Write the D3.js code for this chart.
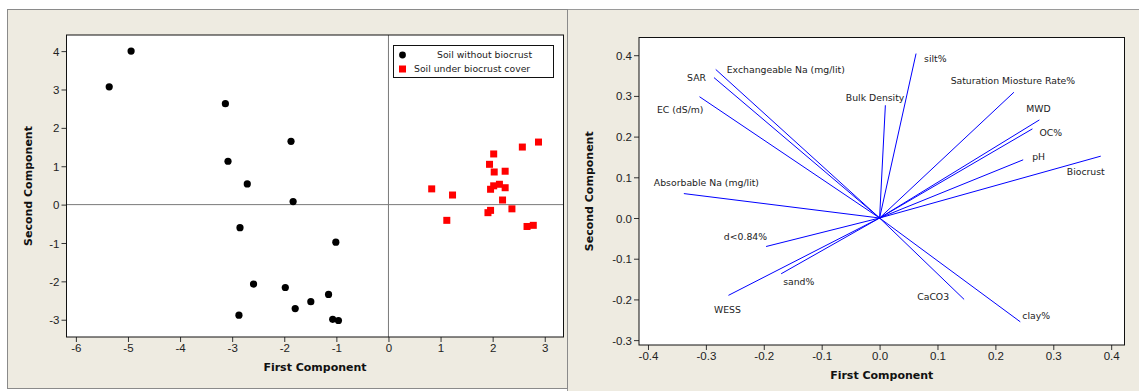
<!DOCTYPE html>
<html lang="en">
<head>
<meta charset="UTF-8">
<title>PCA score and loading plots</title>
<script src="https://d3js.org/d3.v7.min.js"></script>
<style>
    body { margin: 0; background: #fff; }
    svg { display: block; font-family: "DejaVu Sans", Verdana, sans-serif; }
    .tick text { font-size: 11.5px; fill: #222; }
    .tick line { stroke: #333; }
    .axis-title { font-size: 11px; font-weight: bold; fill: #111; }
    .lbl { font-size: 9.3px; fill: #222; }
</style>
</head>
<body>
<div id="chart"></div>
<script>
// score plot: soil without biocrust
const noCrustPC1 = [-4.94, -5.36, -3.13, -1.87, -3.08, -2.71, -1.83, -2.85, -1.01, -2.59, -1.98, -1.15, -1.49, -1.79, -2.87, -1.07, -0.96];
const noCrustPC2 = [4.00, 3.07, 2.63, 1.65, 1.13, 0.54, 0.08, -0.60, -0.98, -2.07, -2.16, -2.34, -2.53, -2.71, -2.88, -2.99, -3.02];
// score plot: soil under biocrust cover
const crustPC1 = [0.83, 1.23, 1.12, 2.02, 1.94, 2.03, 2.24, 2.57, 2.88, 1.96, 2.02, 2.13, 2.24, 2.19, 2.37, 1.96, 1.91, 2.66, 2.78];
const crustPC2 = [0.41, 0.25, -0.41, 1.32, 1.05, 0.85, 0.87, 1.50, 1.63, 0.40, 0.49, 0.53, 0.44, 0.12, -0.11, -0.15, -0.21, -0.57, -0.54];
const seriesNames = ["Soil without biocrust", "Soil under biocrust cover"];

// loading plot
const variables = ["silt%", "Bulk Density", "Exchangeable Na (mg/lit)", "SAR", "EC (dS/m)", "Absorbable Na (mg/lit)",
    "d<0.84%", "sand%", "WESS", "CaCO3", "clay%", "Saturation Miosture Rate%", "MWD", "OC%", "pH", "Biocrust"];
const loadPC1 = [0.063, 0.010, -0.283, -0.286, -0.311, -0.338, -0.196, -0.170, -0.261, 0.146, 0.243, 0.232, 0.276, 0.264, 0.248, 0.382];
const loadPC2 = [0.404, 0.277, 0.365, 0.345, 0.298, 0.060, -0.070, -0.137, -0.190, -0.200, -0.255, 0.309, 0.241, 0.219, 0.143, 0.152];

const scoreXTicks = [-6, -5, -4, -3, -2, -1, 0, 1, 2, 3];
const scoreYTicks = [-3, -2, -1, 0, 1, 2, 3, 4];
const loadXTicks = [-0.4, -0.3, -0.2, -0.1, 0.0, 0.1, 0.2, 0.3, 0.4];
const loadYTicks = [-0.3, -0.2, -0.1, 0.0, 0.1, 0.2, 0.3, 0.4];

// label placement relative to the arrow tip: [dx, dy, anchor]
const labelPlace = [[8, 5, "start"], [19, -8, "end"], [11, 0, "start"], [-8, 0, "end"], [4, 13, "end"], [-30, -11, "start"],
    [1, -10, "end"], [2, 8, "start"], [-1, 14, "middle"], [-15, -3, "end"], [2, -6, "start"], [-1, -11, "middle"],
    [-1, -11, "middle"], [7, 4, "start"], [9, -3, "start"], [4, 16, "end"]];

const W = 1139, H = 391;
const beige = "#eeebe1";

const svg = d3.select("#chart").append("svg")
    .attr("width", W)
    .attr("height", H);

svg.append("rect").attr("width", W).attr("height", H).attr("fill", "#fff");

// panel backgrounds
svg.append("rect")
    .attr("x", 567.5).attr("y", 9.5).attr("width", 600).attr("height", 400)
    .attr("fill", beige).attr("stroke", "#9a9a9a");
svg.append("rect")
    .attr("x", 7.5).attr("y", 9.5).attr("width", 560).attr("height", 379)
    .attr("fill", beige).attr("stroke", "#8a8a8a");

// plain hyphen for negatives, like the original
const hyphen = f => d => f(d).replace("\u2212", "-");

function drawAxes(g, x, y, xTicks, yTicks, fmt) {
    const [x0, x1] = x.range();
    const [y0, y1] = y.range();
    g.append("rect")
        .attr("x", x0).attr("y", y0).attr("width", x1 - x0).attr("height", y1 - y0)
        .attr("fill", "#fff");

    const ax = g.append("g")
        .attr("transform", "translate(0," + y1 + ")")
        .call(d3.axisBottom(x).tickValues(xTicks).tickFormat(hyphen(fmt)).tickSize(5).tickPadding(2));
    ax.select(".domain").remove();

    const ay = g.append("g")
        .attr("transform", "translate(" + x0 + ",0)")
        .call(d3.axisLeft(y).tickValues(yTicks).tickFormat(hyphen(fmt)).tickSize(5).tickPadding(2));
    ay.select(".domain").remove();
    ay.selectAll(".tick text").attr("dy", "0.35em");

    g.append("text").attr("class", "axis-title")
        .attr("x", (x0 + x1) / 2).attr("y", y1 + 34)
        .attr("text-anchor", "middle")
        .text("First Component");
}

function drawFrame(g, x, y) {
    const [x0, x1] = x.range();
    const [y0, y1] = y.range();
    g.append("rect")
        .attr("x", x0).attr("y", y0).attr("width", x1 - x0).attr("height", y1 - y0)
        .attr("fill", "none").attr("stroke", "#111");
}

// ---------- left: score plot ----------
const xs = d3.scaleLinear().domain([-6.18, 3.36]).range([66.5, 563.5]);
const ys = d3.scaleLinear().domain([4.42, -3.45]).range([35, 337]);
const left = svg.append("g");
drawAxes(left, xs, ys, scoreXTicks, scoreYTicks, d3.format("d"));

left.append("text").attr("class", "axis-title")
    .attr("transform", "translate(32," + (35 + 337) / 2 + ") rotate(-90)")
    .attr("text-anchor", "middle")
    .text("Second Component");

// reference lines at zero
left.append("line")
    .attr("x1", xs(0)).attr("x2", xs(0)).attr("y1", 35).attr("y2", 337)
    .attr("stroke", "#7a7a7a");
left.append("line")
    .attr("x1", 66.5).attr("x2", 563.5).attr("y1", ys(0)).attr("y2", ys(0))
    .attr("stroke", "#7a7a7a");

left.selectAll(".nocrust")
    .data(d3.zip(noCrustPC1, noCrustPC2))
  .enter().append("circle")
    .attr("class", "nocrust")
    .attr("cx", d => xs(d[0]))
    .attr("cy", d => ys(d[1]))
    .attr("r", 3.6)
    .attr("fill", "#000");

const sq = 7;
left.selectAll(".crust")
    .data(d3.zip(crustPC1, crustPC2))
  .enter().append("rect")
    .attr("class", "crust")
    .attr("x", d => xs(d[0]) - sq / 2)
    .attr("y", d => ys(d[1]) - sq / 2)
    .attr("width", sq).attr("height", sq)
    .attr("fill", "#ff0000");

drawFrame(left, xs, ys);

// legend
const lg = left.append("g");
lg.append("rect")
    .attr("x", 393.5).attr("y", 45.5).attr("width", 160).attr("height", 32)
    .attr("fill", "#fff").attr("stroke", "#111");
lg.append("circle").attr("cx", 402.5).attr("cy", 55).attr("r", 3.4).attr("fill", "#000");
lg.append("rect").attr("x", 399).attr("y", 65.5).attr("width", 7).attr("height", 7).attr("fill", "#ff0000");
lg.append("text").attr("class", "lbl").attr("x", 437).attr("y", 55).attr("dy", "0.35em").text(seriesNames[0]);
lg.append("text").attr("class", "lbl").attr("x", 414).attr("y", 69).attr("dy", "0.35em").text(seriesNames[1]);

// ---------- right: loading plot ----------
const xl = d3.scaleLinear().domain([-0.4155, 0.423]).range([639, 1124.5]);
const yl = d3.scaleLinear().domain([0.4435, -0.312]).range([37.5, 345]);
const right = svg.append("g");
drawAxes(right, xl, yl, loadXTicks, loadYTicks, d3.format(".1f"));

right.append("text").attr("class", "axis-title")
    .attr("transform", "translate(593," + (37.5 + 345) / 2 + ") rotate(-90)")
    .attr("text-anchor", "middle")
    .text("Second Component");

const loads = variables.map((v, i) => ({name: v, pc1: loadPC1[i], pc2: loadPC2[i], place: labelPlace[i]}));

right.selectAll(".vec")
    .data(loads)
  .enter().append("line")
    .attr("class", "vec")
    .attr("x1", xl(0)).attr("y1", yl(0))
    .attr("x2", d => xl(d.pc1)).attr("y2", d => yl(d.pc2))
    .attr("stroke", "#0000ff")
    .attr("stroke-width", 1);

right.selectAll(".vlbl")
    .data(loads)
  .enter().append("text")
    .attr("class", "lbl vlbl")
    .attr("x", d => xl(d.pc1) + d.place[0])
    .attr("y", d => yl(d.pc2) + d.place[1])
    .attr("dy", "0.35em")
    .attr("text-anchor", d => d.place[2])
    .text(d => d.name);

drawFrame(right, xl, yl);
</script>
</body>
</html>
